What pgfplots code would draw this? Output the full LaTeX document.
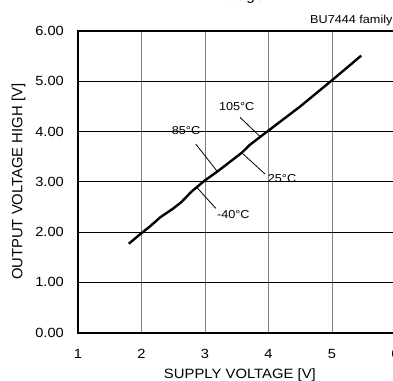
\documentclass[border=0pt]{standalone}
\usepackage{fontspec}
\setmainfont{Liberation Sans}[FakeStretch=1.1]
\newfontfamily\plainfont{Liberation Sans}
\usepackage{pgfplots}
\pgfplotsset{compat=1.18}
\begin{document}
\begin{tikzpicture}
\begin{axis}[
  scale only axis=true,
  width=317.5pt, height=301.7pt,
  at={(0pt,0pt)}, anchor=south west,
  xmin=1, xmax=6, ymin=0, ymax=6,
  xtick={1,2,3,4,5,6}, ytick={0,1,2,3,4,5,6},
  major tick length=0pt,
  axis line style={line width=2pt, black},
  grid=major,
  x grid style={line width=1pt, gray},
  y grid style={line width=0.9pt, black},
  /pgf/number format/assume math mode=true,
  tick label style={font=\fontsize{13.3}{15}\selectfont, inner sep=0pt},
  yticklabel style={/pgf/number format/fixed, /pgf/number format/fixed zerofill, /pgf/number format/precision=2},
  yticklabel shift=14pt,
  xticklabel shift=16pt,
  xlabel={SUPPLY VOLTAGE [V]},
  ylabel={OUTPUT VOLTAGE HIGH [V]},
  xlabel style={font=\fontsize{13.5}{15}\selectfont, at={(axis description cs:0.51,0)}, anchor=base, yshift=-45.3pt, inner sep=0pt},
  ylabel style={font=\plainfont\fontsize{14.8}{16}\selectfont, at={(axis description cs:-0.1874,0.5)}, anchor=center, inner sep=0pt},
  clip=false,
]
\addplot[black, line width=2.4pt, line join=round] coordinates {
  (1.80,1.77) (2.00,1.98) (2.13,2.11) (2.30,2.30) (2.50,2.47) (2.63,2.60)
  (2.76,2.77) (2.80,2.82) (3.00,3.03) (3.20,3.21) (3.58,3.58) (3.70,3.73)
  (4.00,4.02) (4.50,4.50) (5.00,5.02) (5.46,5.51)
};
% annotations
\begin{scope}[every node/.style={font=\fontsize{11.5}{13}\selectfont, inner sep=0pt}]
\node at (axis cs:3.499,4.495) {105\textdegree C};
\draw[line width=0.8pt] (axis cs:3.551,4.284) -- (axis cs:3.866,3.902);
\node at (axis cs:2.701,4.017) {85\textdegree C};
\draw[line width=0.8pt] (axis cs:2.854,3.753) -- (axis cs:3.184,3.222);
\node at (axis cs:4.213,3.071) {25\textdegree C};
\draw[line width=0.8pt] (axis cs:3.945,3.156) -- (axis cs:3.578,3.58);
\node at (axis cs:3.446,2.341) {-40\textdegree C};
\draw[line width=0.8pt] (axis cs:3.169,2.474) -- (axis cs:2.869,2.892);
\end{scope}
\end{axis}
\node[anchor=base west, inner sep=0pt, font=\fontsize{11.5}{13}\selectfont] at (232pt,308.7pt) {BU7444 family};
\node[anchor=base west, inner sep=0pt, font=\fontsize{14}{16}\selectfont] at (134pt,332pt) {Voltage};
\pgfresetboundingbox
\useasboundingbox (-78pt,-47.3pt) rectangle (315pt,332.7pt);
\end{tikzpicture}
\end{document}
